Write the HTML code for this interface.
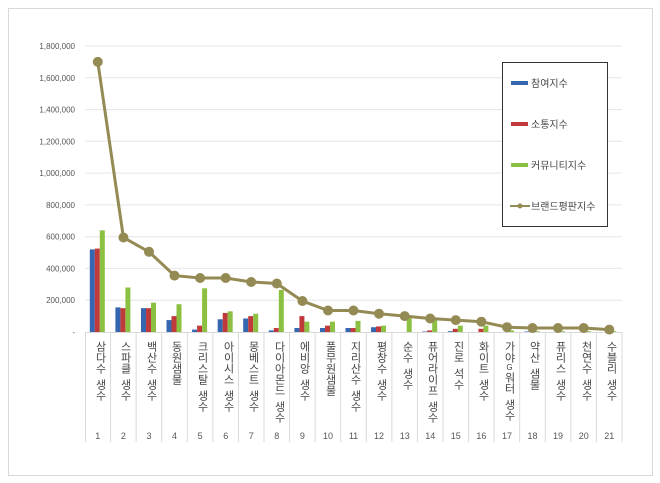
<!DOCTYPE html>
<html><head><meta charset="utf-8"><style>
body{margin:0;background:#fff;width:660px;height:483px;overflow:hidden;font-family:"Liberation Sans","Noto Sans CJK KR",sans-serif}
.lab{position:absolute;top:341px;width:16px;font-size:11px;line-height:12px;writing-mode:vertical-rl;text-orientation:upright;color:#444;font-family:"Liberation Sans","Noto Sans CJK KR",sans-serif;letter-spacing:0px}
.s{font-size:4px}
</style></head><body>
<svg width="660" height="483" style="position:absolute;left:0;top:0" font-family="Liberation Sans, sans-serif">
<rect x="8.5" y="8.5" width="644" height="467" fill="#fff" stroke="#d9d9d9"/>
<g stroke="#e6e6e6" stroke-width="1">
<line x1="85" x2="622" y1="46" y2="46"/><line x1="85" x2="622" y1="77.8" y2="77.8"/><line x1="85" x2="622" y1="109.6" y2="109.6"/><line x1="85" x2="622" y1="141.3" y2="141.3"/><line x1="85" x2="622" y1="173.1" y2="173.1"/><line x1="85" x2="622" y1="204.9" y2="204.9"/><line x1="85" x2="622" y1="236.7" y2="236.7"/><line x1="85" x2="622" y1="268.4" y2="268.4"/><line x1="85" x2="622" y1="300.2" y2="300.2"/>
</g>
<g stroke="#d9d9d9">
<line x1="85" x2="622" y1="332.5" y2="332.5"/>
<line x1="85.5" x2="85.5" y1="332" y2="442"/><line x1="110.6" x2="110.6" y1="332" y2="442"/><line x1="136.1" x2="136.1" y1="332" y2="442"/><line x1="161.7" x2="161.7" y1="332" y2="442"/><line x1="187.3" x2="187.3" y1="332" y2="442"/><line x1="212.9" x2="212.9" y1="332" y2="442"/><line x1="238.4" x2="238.4" y1="332" y2="442"/><line x1="264" x2="264" y1="332" y2="442"/><line x1="289.6" x2="289.6" y1="332" y2="442"/><line x1="315.1" x2="315.1" y1="332" y2="442"/><line x1="340.7" x2="340.7" y1="332" y2="442"/><line x1="366.3" x2="366.3" y1="332" y2="442"/><line x1="391.9" x2="391.9" y1="332" y2="442"/><line x1="417.4" x2="417.4" y1="332" y2="442"/><line x1="443" x2="443" y1="332" y2="442"/><line x1="468.6" x2="468.6" y1="332" y2="442"/><line x1="494.1" x2="494.1" y1="332" y2="442"/><line x1="519.7" x2="519.7" y1="332" y2="442"/><line x1="545.3" x2="545.3" y1="332" y2="442"/><line x1="570.9" x2="570.9" y1="332" y2="442"/><line x1="596.4" x2="596.4" y1="332" y2="442"/><line x1="622" x2="622" y1="332" y2="442"/>
</g>
<g font-size="8" fill="#555" text-anchor="end">
<text x="75" y="49">1,800,000</text><text x="75" y="80.8">1,600,000</text><text x="75" y="112.6">1,400,000</text><text x="75" y="144.3">1,200,000</text><text x="75" y="176.1">1,000,000</text><text x="75" y="207.9">800,000</text><text x="75" y="239.7">600,000</text><text x="75" y="271.4">400,000</text><text x="75" y="303.2">200,000</text><text x="75" y="335">-</text>
</g>
<g transform="translate(0,332) scale(1,-0.1589)">
<g fill="#3566b0">
<rect x="89.8" width="5" height="520"/><rect x="115.4" width="5" height="155"/><rect x="141" width="5" height="150"/><rect x="166.5" width="5" height="75"/><rect x="192.1" width="5" height="15"/><rect x="217.7" width="5" height="80"/><rect x="243.2" width="5" height="85"/><rect x="268.8" width="5" height="10"/><rect x="294.4" width="5" height="25"/><rect x="320" width="5" height="25"/><rect x="345.5" width="5" height="25"/><rect x="371" width="5" height="30"/><rect x="422.2" width="5" height="3"/><rect x="447.8" width="5" height="5"/><rect x="524.5" width="5" height="3"/>
</g>
<g fill="#c0393b">
<rect x="94.8" width="5" height="525"/><rect x="120.4" width="5" height="150"/><rect x="146" width="5" height="150"/><rect x="171.5" width="5" height="100"/><rect x="197.1" width="5" height="40"/><rect x="222.7" width="5" height="120"/><rect x="248.2" width="5" height="100"/><rect x="273.8" width="5" height="25"/><rect x="299.4" width="5" height="100"/><rect x="325" width="5" height="40"/><rect x="350.5" width="5" height="25"/><rect x="376" width="5" height="35"/><rect x="427.2" width="5" height="10"/><rect x="452.8" width="5" height="20"/><rect x="478.4" width="5" height="20"/>
</g>
<g fill="#8cc043">
<rect x="99.8" width="5" height="640"/><rect x="125.4" width="5" height="280"/><rect x="151" width="5" height="185"/><rect x="176.5" width="5" height="175"/><rect x="202.1" width="5" height="275"/><rect x="227.7" width="5" height="130"/><rect x="253.2" width="5" height="115"/><rect x="278.8" width="5" height="265"/><rect x="304.4" width="5" height="65"/><rect x="330" width="5" height="65"/><rect x="355.5" width="5" height="70"/><rect x="381" width="5" height="40"/><rect x="406.7" width="5" height="100"/><rect x="432.2" width="5" height="75"/><rect x="457.8" width="5" height="40"/><rect x="483.4" width="5" height="40"/><rect x="509" width="5" height="10"/><rect x="534.5" width="5" height="5"/><rect x="560" width="5" height="5"/><rect x="585.7" width="5" height="5"/><rect x="611.3" width="5" height="5"/>
</g>
</g>
<polyline fill="none" stroke="#948a54" stroke-width="3" points="97.8,61.9 123.4,237.5 149,251.8 174.5,275.6 200.1,278 225.7,278 251.2,282 276.8,283.5 302.4,301 328,310.5 353.5,310.5 379,313.7 404.7,316.1 430.2,318.5 455.8,320.1 481.4,321.7 507,327.2 532.5,328 558,328 583.7,328 609.3,329.6"/>
<g fill="#948a54">
<circle cx="97.8" cy="61.9" r="5"/><circle cx="123.4" cy="237.5" r="5"/><circle cx="149" cy="251.8" r="5"/><circle cx="174.5" cy="275.6" r="5"/><circle cx="200.1" cy="278" r="5"/><circle cx="225.7" cy="278" r="5"/><circle cx="251.2" cy="282" r="5"/><circle cx="276.8" cy="283.5" r="5"/><circle cx="302.4" cy="301" r="5"/><circle cx="328" cy="310.5" r="5"/><circle cx="353.5" cy="310.5" r="5"/><circle cx="379" cy="313.7" r="5"/><circle cx="404.7" cy="316.1" r="5"/><circle cx="430.2" cy="318.5" r="5"/><circle cx="455.8" cy="320.1" r="5"/><circle cx="481.4" cy="321.7" r="5"/><circle cx="507" cy="327.2" r="5"/><circle cx="532.5" cy="328" r="5"/><circle cx="558" cy="328" r="5"/><circle cx="583.7" cy="328" r="5"/><circle cx="609.3" cy="329.6" r="5"/>
</g>
<g font-size="9" fill="#555" text-anchor="middle">
<text x="97.8" y="439">1</text><text x="123.4" y="439">2</text><text x="149" y="439">3</text><text x="174.5" y="439">4</text><text x="200.1" y="439">5</text><text x="225.7" y="439">6</text><text x="251.2" y="439">7</text><text x="276.8" y="439">8</text><text x="302.4" y="439">9</text><text x="328" y="439">10</text><text x="353.5" y="439">11</text><text x="379" y="439">12</text><text x="404.7" y="439">13</text><text x="430.2" y="439">14</text><text x="455.8" y="439">15</text><text x="481.4" y="439">16</text><text x="507" y="439">17</text><text x="532.5" y="439">18</text><text x="558" y="439">19</text><text x="583.7" y="439">20</text><text x="609.3" y="439">21</text>
</g>
<rect x="502.5" y="62.5" width="105" height="164" fill="#fff" stroke="#333"/>
<rect x="511" y="81" width="17" height="4" fill="#3566b0"/>
<rect x="511" y="122" width="17" height="4" fill="#c0393b"/>
<rect x="511" y="163" width="17" height="4" fill="#8cc043"/>
<line x1="510" x2="530" y1="206" y2="206" stroke="#948a54" stroke-width="2"/><circle cx="520" cy="206" r="2.5" fill="#948a54"/>
<g font-size="10" fill="#444" font-family="Liberation Sans, Noto Sans CJK KR, sans-serif">
<text x="531" y="87">참여지수</text><text x="531" y="128">소통지수</text><text x="531" y="169">커뮤니티지수</text><text x="531" y="210">브랜드평판지수</text>
</g>
</svg>
<div class="lab" style="left:90px">삼다수<span class="s"> </span>생수</div>
<div class="lab" style="left:115px">스파클<span class="s"> </span>생수</div>
<div class="lab" style="left:141px">백산수<span class="s"> </span>생수</div>
<div class="lab" style="left:166px">동원샘물</div>
<div class="lab" style="left:192px">크리스탈<span class="s"> </span>생수</div>
<div class="lab" style="left:218px">아이시스<span class="s"> </span>생수</div>
<div class="lab" style="left:243px">몽베스트<span class="s"> </span>생수</div>
<div class="lab" style="left:269px">다이아몬드<span class="s"> </span>생수</div>
<div class="lab" style="left:294px">에비앙<span class="s"> </span>생수</div>
<div class="lab" style="left:320px">풀무원샘물</div>
<div class="lab" style="left:345px">지리산수<span class="s"> </span>생수</div>
<div class="lab" style="left:371px">평창수<span class="s"> </span>생수</div>
<div class="lab" style="left:397px">순수<span class="s"> </span>생수</div>
<div class="lab" style="left:422px">퓨어라이프<span class="s"> </span>생수</div>
<div class="lab" style="left:448px">진로<span class="s"> </span>석수</div>
<div class="lab" style="left:473px">화이트<span class="s"> </span>생수</div>
<div class="lab" style="left:499px">가야<span style="font-size:8px">G</span>워터<span class="s"> </span>생수</div>
<div class="lab" style="left:524px">약산<span class="s"> </span>샘물</div>
<div class="lab" style="left:550px">퓨리스<span class="s"> </span>생수</div>
<div class="lab" style="left:576px">천연수<span class="s"> </span>생수</div>
<div class="lab" style="left:601px">수블리<span class="s"> </span>생수</div>
</body></html>
